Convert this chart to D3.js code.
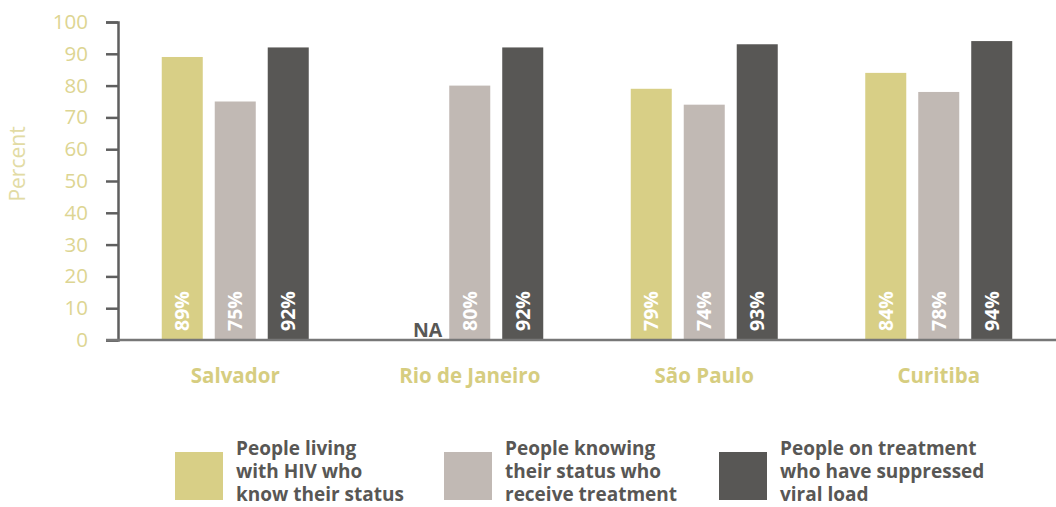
<!DOCTYPE html>
<html>
  <head>
    <meta charset="utf-8" />
    <script src="https://d3js.org/d3.v7.min.js"></script>
    <style>
      body { margin: 0; background: #fff; }
      text { font-family: "Open Sans", "Noto Sans", sans-serif; }
    </style>
  </head>
  <body>
    <svg id="chart"></svg>
    <script>
      // Data
      var cities = ["Salvador", "Rio de Janeiro", "São Paulo", "Curitiba"];
      var seriesKeys = ["know", "treated", "suppressed"];
      var knowStatus = [89, null, 79, 84];
      var onTreatment = [75, 80, 74, 78];
      var suppressed = [92, 92, 93, 94];
      var legendLabels = [
        ["People living", "with HIV who", "know their status"],
        ["People knowing", "their status who", "receive treatment"],
        ["People on treatment", "who have suppressed", "viral load"]
      ];
      var yTicks = [0, 10, 20, 30, 40, 50, 60, 70, 80, 90, 100];

      var colors = ["#d8cf86", "#c1b9b4", "#585755"];
      var width = 1056, height = 507;

      var svg = d3.select("#chart").attr("width", width).attr("height", height);

      var rows = cities.map(function (c, i) {
        return { city: c, values: [knowStatus[i], onTreatment[i], suppressed[i]] };
      });

      var x0 = d3.scaleBand().domain(cities).range([118, 1056]);
      var x1 = d3.scaleBand().domain(seriesKeys).range([0, 147]).paddingInner(0.226);
      var y = d3.scaleLinear().domain([0, 100]).range([340, 22]);

      // Bars
      var groups = svg.append("g").selectAll("g")
        .data(rows)
        .join("g")
        .attr("transform", function (d) {
          return "translate(" + (x0(d.city) + x0.bandwidth() / 2 - 73.5) + ",0)";
        });

      groups.selectAll("rect")
        .data(function (d) { return d.values.map(function (v, j) { return { key: seriesKeys[j], v: v, j: j }; }); })
        .join("rect")
        .filter(function (d) { return d.v !== null; })
        .attr("x", function (d) { return x1(d.key); })
        .attr("y", function (d) { return y(d.v); })
        .attr("width", x1.bandwidth())
        .attr("height", function (d) { return y(0) - y(d.v); })
        .attr("fill", function (d) { return colors[d.j]; });

      // Value labels inside bars
      groups.selectAll("text.val")
        .data(function (d) { return d.values.map(function (v, j) { return { key: seriesKeys[j], v: v, j: j }; }); })
        .join("text")
        .attr("class", "val")
        .attr("transform", function (d) {
          return "translate(" + (x1(d.key) + x1.bandwidth() / 2 + 7) + "," + (y(0) - 9) + ") rotate(-90)";
        })
        .attr("text-anchor", "start")
        .attr("font-size", "19.5px")
        .attr("font-weight", "bold")
        .attr("fill", "#fff")
        .text(function (d) { return d.v === null ? "" : d.v + "%"; });

      // NA label
      groups.filter(function (d) { return d.values[0] === null; })
        .append("text")
        .attr("x", x1("know") + x1.bandwidth() + 5)
        .attr("y", y(0) - 3)
        .attr("text-anchor", "end")
        .attr("font-size", "19.5px")
        .attr("font-weight", "bold")
        .attr("fill", "#585755")
        .text("NA");

      // Y axis
      var yAxis = svg.append("g")
        .attr("transform", "translate(118,0)")
        .call(d3.axisLeft(y).tickValues(yTicks).tickSize(12).tickPadding(18));
      yAxis.select(".domain").attr("stroke", "#5f5f5f").attr("stroke-width", 2.5);
      yAxis.selectAll(".tick line").attr("stroke", "#5f5f5f").attr("stroke-width", 2.5);
      yAxis.selectAll(".tick text")
        .attr("fill", "#ddd592")
        .attr("font-size", "20.5px")
        .attr("font-family", "'Open Sans', 'Noto Sans', sans-serif");

      // X axis line
      svg.append("line")
        .attr("x1", 106).attr("x2", width)
        .attr("y1", y(0)).attr("y2", y(0))
        .attr("stroke", "#777").attr("stroke-width", 2.5);

      // Category labels
      svg.append("g").selectAll("text")
        .data(cities)
        .join("text")
        .attr("x", function (d) { return x0(d) + x0.bandwidth() / 2; })
        .attr("y", 383)
        .attr("text-anchor", "middle")
        .attr("font-size", "20.5px")
        .attr("font-weight", "bold")
        .attr("fill", "#d6cd80")
        .text(function (d) { return d; });

      // Y axis title
      svg.append("text")
        .attr("transform", "translate(25,164) rotate(-90)")
        .attr("text-anchor", "middle")
        .attr("font-size", "21px")
        .attr("fill", "#e2dba4")
        .text("Percent");

      // Legend
      var legendX = [175, 444, 719];
      var legend = svg.append("g").selectAll("g")
        .data(legendLabels)
        .join("g")
        .attr("transform", function (d, i) { return "translate(" + legendX[i] + ",452)"; });

      legend.append("rect")
        .attr("width", 48).attr("height", 48)
        .attr("fill", function (d, i) { return colors[i]; });

      legend.append("text")
        .attr("font-size", "19px")
        .attr("font-weight", "bold")
        .attr("fill", "#585755")
        .selectAll("tspan")
        .data(function (d) { return d; })
        .join("tspan")
        .attr("x", 61)
        .attr("y", function (d, k) { return 3 + k * 23; })
        .text(function (d) { return d; });
    </script>
  </body>
</html>
